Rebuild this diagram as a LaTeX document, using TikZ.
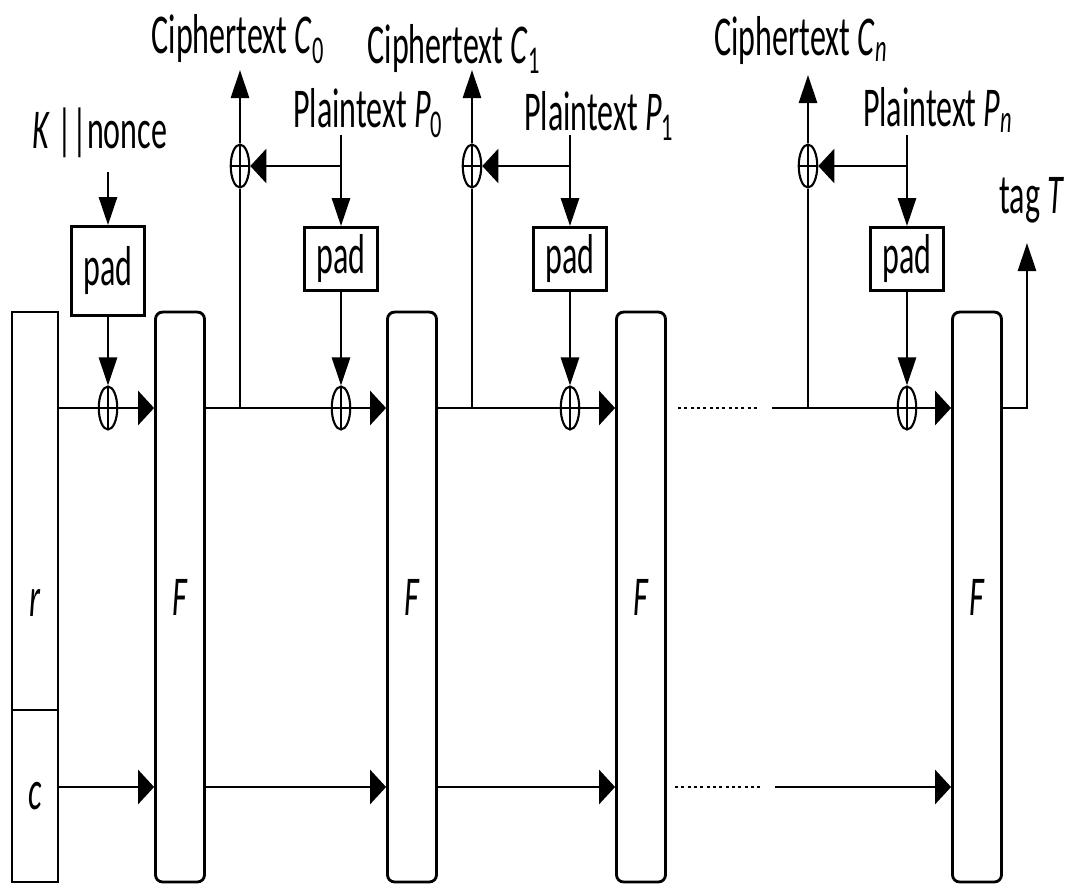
\documentclass[tikz,border=0pt]{standalone}
\usepackage{fontspec}
\setmainfont{Carlito}[FakeStretch=0.57]
\usetikzlibrary{positioning,arrows.meta,shapes.geometric}

\begin{document}
\begin{tikzpicture}[
    x=0.02cm, y=-0.02cm,
    line width=1.6pt,
    font=\fontsize{32}{38}\selectfont,
    fbox/.style={draw, rounded corners=4pt, minimum width=0.98cm, minimum height=11.4cm, inner sep=0pt},
    state/.style={draw, minimum width=0.92cm, inner sep=0pt},
    padbox/.style={draw, minimum width=1.47cm, minimum height=1.26cm, inner sep=0pt},
    xor/.style={draw, ellipse, line width=1.2pt, minimum width=0.37cm, minimum height=0.86cm, inner sep=0pt,
        path picture={\draw[line width=1.2pt] (path picture bounding box.north) -- (path picture bounding box.south)
            (path picture bounding box.west) -- (path picture bounding box.east);}},
    harrow/.style={-{Triangle[length=0.32cm, width=0.68cm]}},
    varrow/.style={-{Triangle[length=0.56cm, width=0.36cm]}},
    dotline/.style={line width=1.3pt, dash pattern=on 1.7pt off 1.9pt},
]
\useasboundingbox (0,0) rectangle (1073,887);

% state and permutation blocks
\node[state, minimum height=7.96cm] (rbox) at (35,511) {};
\node[state, minimum height=3.44cm] (cbox) at (35,796) {\textit{c}};
\node (rlab) at (35,603) {\textit{r}};
\node[fbox] (f1) at (180,597) {\textit{F}};
\node[fbox] (f2) at (412,597) {\textit{F}};
\node[fbox] (f3) at (641,597) {\textit{F}};
\node[fbox] (f4) at (977,597) {\textit{F}};

% padding
\node[padbox, minimum height=1.78cm] (pad0) at (108,271) {pad};
\node[padbox] (pad1) at (341,259) {pad};
\node[padbox] (pad2) at (570,259) {pad};
\node[padbox] (pad3) at (907,259) {pad};

% xor gates
\node[xor] (xk) at (108,408) {};
\node[xor] (xp0) at (341,408) {};
\node[xor] (xp1) at (570,408) {};
\node[xor] (xpn) at (907,408) {};
\node[xor] (xc0) at (240,166) {};
\node[xor] (xc1) at (472,166) {};
\node[xor] (xcn) at (808,166) {};

% labels
\node[anchor=base] (key) at (100,148) {\textit{K} ||nonce};
\node[anchor=base] (lc0) at (238,53) {Ciphertext \textit{C}\textsubscript{0}};
\node[anchor=base] (lc1) at (454,63) {Ciphertext \textit{C}\textsubscript{1}};
\node[anchor=base] (lcn) at (801,55) {Ciphertext \textit{C}\textsubscript{\textit{n}}};
\node[anchor=base] (lp0) at (368,127) {Plaintext \textit{P}\textsubscript{0}};
\node[anchor=base] (lp1) at (599,130) {Plaintext \textit{P}\textsubscript{1}};
\node[anchor=base] (lpn) at (938,126) {Plaintext \textit{P}\textsubscript{\textit{n}}};
\node[anchor=base] (tag) at (1032,213) {tag \textit{T}};

% free ends
\coordinate (k0) at (108,172);
\coordinate (b0) at (240,408);
\coordinate (b1) at (472,408);
\coordinate (bn) at (808,408);
\coordinate (t0) at (240,70);
\coordinate (t1) at (472,70);
\coordinate (tn) at (808,75);
\coordinate (s0) at (341,135);
\coordinate (s1) at (570,135);
\coordinate (sn) at (907,135);
\coordinate (d0) at (678,408);
\coordinate (d1) at (760,408);
\coordinate (e0) at (772,408);
\coordinate (d2) at (675,787);
\coordinate (d3) at (763,787);
\coordinate (e1) at (775,787);
\coordinate (tg) at (1027,408);
\coordinate (tgtip) at (1027,243);

% key and nonce
\draw[varrow] (k0) -- (pad0);
\draw[varrow] (pad0) -- (xk);
\draw (rbox.east |- xk) -- (xk);
\draw[harrow] (xk) -- (f1.west |- xk);

% block 0
\draw (f1.east |- b0) -- (xp0);
\draw[harrow] (xp0) -- (f2.west |- xp0);
\draw (b0) -- (xc0);
\draw[varrow] (xc0) -- (t0);
\draw (s0) -- (pad1 |- xc0);
\draw[harrow] (pad1 |- xc0) -- (xc0);
\draw[varrow] (pad1 |- xc0) -- (pad1);
\draw[varrow] (pad1) -- (xp0);

% block 1
\draw (f2.east |- b1) -- (xp1);
\draw[harrow] (xp1) -- (f3.west |- xp1);
\draw (b1) -- (xc1);
\draw[varrow] (xc1) -- (t1);
\draw (s1) -- (pad2 |- xc1);
\draw[harrow] (pad2 |- xc1) -- (xc1);
\draw[varrow] (pad2 |- xc1) -- (pad2);
\draw[varrow] (pad2) -- (xp1);

% block n
\draw[dotline] (d0) -- (d1);
\draw (e0) -- (xpn);
\draw[harrow] (xpn) -- (f4.west |- xpn);
\draw (bn) -- (xcn);
\draw[varrow] (xcn) -- (tn);
\draw (sn) -- (pad3 |- xcn);
\draw[harrow] (pad3 |- xcn) -- (xcn);
\draw[varrow] (pad3 |- xcn) -- (pad3);
\draw[varrow] (pad3) -- (xpn);

% tag
\draw[varrow] (f4.east |- xpn) -- (tg) -- (tgtip);

% capacity row
\draw[harrow] (cbox.east |- d2) -- (f1.west |- d2);
\draw[harrow] (f1.east |- d2) -- (f2.west |- d2);
\draw[harrow] (f2.east |- d2) -- (f3.west |- d2);
\draw[dotline] (d2) -- (d3);
\draw[harrow] (e1) -- (f4.west |- e1);
\end{tikzpicture}
\end{document}
